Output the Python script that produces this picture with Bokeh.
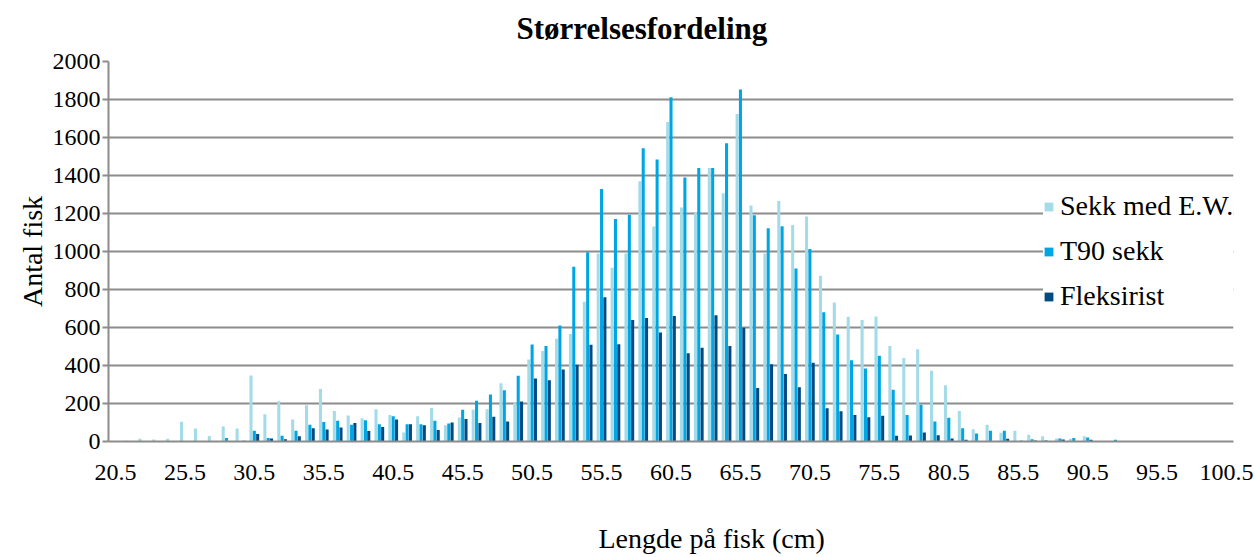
from bokeh.plotting import figure
from bokeh.models import (ColumnDataSource, Range1d, FixedTicker, Legend, LegendItem,
                          Title)
from bokeh.transform import dodge
from bokeh.embed import file_html
from bokeh.resources import INLINE

# Length classes (cm), one per centimetre from 20.5 to 100.5
lengths = [20.5 + i for i in range(81)]

sekk_ew = [0, 4, 14, 11, 14, 104, 68, 29, 79, 68,
           348, 143, 212, 116, 191, 276, 161, 137, 123, 170,
           139, 47, 133, 176, 86, 126, 167, 170, 307, 202,
           432, 476, 541, 566, 736, 990, 914, 990, 1370, 1131,
           1681, 1231, 1205, 1440, 1307, 1724, 1242, 990, 1266, 1140,
           1184, 872, 731, 656, 640, 658, 502, 440, 486, 372,
           296, 161, 65, 88, 46, 57, 36, 27, 16, 14,
           27, 2, 0, 2, 0, 0, 0, 0, 0, 0, 0]

t90_sekk = [0, 0, 2, 3, 0, 0, 2, 0, 18, 0,
            57, 18, 30, 57, 88, 103, 109, 88, 112, 91,
            133, 91, 91, 109, 95, 167, 214, 247, 270, 346,
            510, 502, 610, 920, 996, 1329, 1171, 1194, 1543, 1484,
            1812, 1389, 1440, 1440, 1570, 1853, 1191, 1122, 1133, 910,
            1013, 680, 563, 428, 384, 451, 272, 140, 193, 105,
            125, 70, 42, 56, 57, 0, 12, 7, 16, 18,
            21, 3, 9, 0, 0, 0, 0, 0, 0, 0, 0]

fleksirist = [0, 0, 0, 0, 0, 0, 0, 0, 0, 4,
              39, 16, 12, 28, 70, 63, 74, 98, 55, 76,
              116, 91, 86, 60, 100, 118, 97, 130, 105, 210,
              332, 323, 379, 404, 509, 759, 512, 639, 650, 574,
              660, 465, 493, 664, 502, 599, 281, 407, 355, 286,
              414, 175, 159, 140, 128, 135, 30, 32, 47, 33,
              16, 9, 0, 0, 15, 4, 5, 0, 10, 0,
              9, 0, 3, 0, 0, 0, 0, 0, 0, 0, 0]

series_names = ["Sekk med E.W.", "T90 sekk", "Fleksirist"]
x_ticks = [20.5, 25.5, 30.5, 35.5, 40.5, 45.5, 50.5, 55.5, 60.5,
           65.5, 70.5, 75.5, 80.5, 85.5, 90.5, 95.5, 100.5]
y_ticks = [0, 200, 400, 600, 800, 1000, 1200, 1400, 1600, 1800, 2000]

colors = ["#a3dbe8", "#00a5e3", "#014a82"]
FONT = "Liberation Serif"
GRID = "#8c8c8c"

source = ColumnDataSource(dict(x=lengths, a=sekk_ew, b=t90_sekk, c=fleksirist))

p = figure(width=1258, height=557, output_backend="svg", toolbar_location=None,
           x_range=Range1d(20, 101), y_range=Range1d(0, 2000),
           min_border_left=108, min_border_right=25,
           min_border_top=61, min_border_bottom=116)
p.outline_line_color = None
p.background_fill_color = "white"
p.border_fill_color = "white"

# chart title
p.title.text = "Størrelsesfordeling"
p.title.align = "left"
p.title.offset = 408
p.title.standoff = 0
p.title.padding = dict(left=0, right=0, top=0, bottom=16)
p.title.text_font = FONT
p.title.text_font_size = "31px"
p.title.text_font_style = "bold"
p.title.text_color = "black"

bw = 0.22
r1 = p.vbar(x=dodge("x", -0.24, range=p.x_range), top="a", width=bw,
            source=source, fill_color=colors[0], line_color=None)
r2 = p.vbar(x=dodge("x", 0.0, range=p.x_range), top="b", width=bw,
            source=source, fill_color=colors[1], line_color=None)
r3 = p.vbar(x=dodge("x", 0.24, range=p.x_range), top="c", width=bw,
            source=source, fill_color=colors[2], line_color=None)

# grid
p.xgrid.grid_line_color = None
p.ygrid.grid_line_color = GRID
p.ygrid.grid_line_width = 2
p.ygrid.ticker = FixedTicker(ticks=y_ticks)

# x axis
xa = p.xaxis[0]
xa.ticker = FixedTicker(ticks=x_ticks)
xa.axis_line_color = GRID
xa.axis_line_width = 2
xa.major_tick_line_color = None
xa.minor_tick_line_color = None
xa.major_label_standoff = 17
xa.major_label_text_font = FONT
xa.major_label_text_font_size = "24px"
xa.major_label_text_color = "black"

# x caption, placed below the axis
p.add_layout(Title(text="Lengde på fisk (cm)", align="left", offset=490,
                   standoff=0, padding=dict(left=0, right=0, top=38, bottom=0),
                   text_font=FONT, text_font_size="28px",
                   text_font_style="normal", text_color="black"), "below")

# y axis
ya = p.yaxis[0]
ya.ticker = FixedTicker(ticks=y_ticks)
ya.axis_line_color = GRID
ya.axis_line_width = 2
ya.major_tick_line_color = GRID
ya.major_tick_line_width = 2
ya.major_tick_out = 6
ya.major_tick_in = 0
ya.minor_tick_line_color = None
ya.major_label_standoff = 2
ya.major_label_text_font = FONT
ya.major_label_text_font_size = "24px"
ya.major_label_text_color = "black"
ya.axis_label = "Antal fisk"
ya.axis_label_text_font = FONT
ya.axis_label_text_font_size = "28px"
ya.axis_label_text_font_style = "normal"
ya.axis_label_text_color = "black"
ya.axis_label_standoff = 2

legend = Legend(items=[LegendItem(label=series_names[0], renderers=[r1]),
                       LegendItem(label=series_names[1], renderers=[r2]),
                       LegendItem(label=series_names[2], renderers=[r3])],
                location=(935, 129), orientation="vertical",
                label_text_font=FONT, label_text_font_size="28px",
                label_text_color="black",
                glyph_width=11, glyph_height=11, label_height=28,
                spacing=13, padding=5, margin=0,
                border_line_color=None, background_fill_color="white",
                background_fill_alpha=1.0, label_standoff=6)
p.add_layout(legend, "center")

open("out.html", "w").write(file_html(p, INLINE))
